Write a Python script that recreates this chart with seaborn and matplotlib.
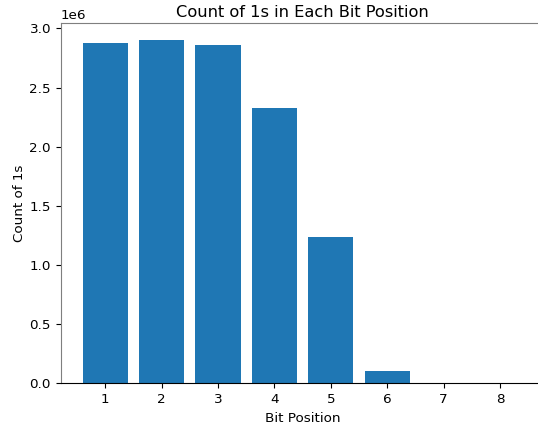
import matplotlib
matplotlib.use("Agg")
import matplotlib.pyplot as plt
import seaborn as sns
import pandas as pd

bit_positions = [1, 2, 3, 4, 5, 6, 7, 8]
counts = [2874000, 2903000, 2860000, 2327000, 1237000, 104000, 1500, 20]

df = pd.DataFrame({"Bit Position": bit_positions, "Count of 1s": counts})

plt.rcParams["font.size"] = 9.7
fig = plt.figure(figsize=(5.38, 4.30), dpi=100)
ax = fig.add_axes([60.7 / 538, (430 - 383.3) / 430, (544.6 - 60.7) / 538, (383.3 - 22.7) / 430])
sns.barplot(data=df, x="Bit Position", y="Count of 1s", native_scale=True,
            color="#1f77b4", saturation=1, width=0.8, ax=ax, errorbar=None)
ax.set_xlim(0.21, 8.79)
ax.set_ylim(0, 3.048e6)
ax.set_xticks(bit_positions)
ax.set_xticklabels([str(b) for b in bit_positions])
ax.tick_params(labelsize=9.7)
ax.set_title("Count of 1s in Each Bit Position", fontsize=11.7, pad=4)
ax.set_xlabel("Bit Position", fontsize=9.7, labelpad=4.5)
ax.set_ylabel("Count of 1s", fontsize=9.7, labelpad=2.5)
ax.spines["left"].set_color("#7f7f7f")
ax.spines["top"].set_color("#7f7f7f")
ax.spines["right"].set_color("#7f7f7f")
ax.spines["bottom"].set_color("black")
fig.savefig("out.png", dpi=100)
